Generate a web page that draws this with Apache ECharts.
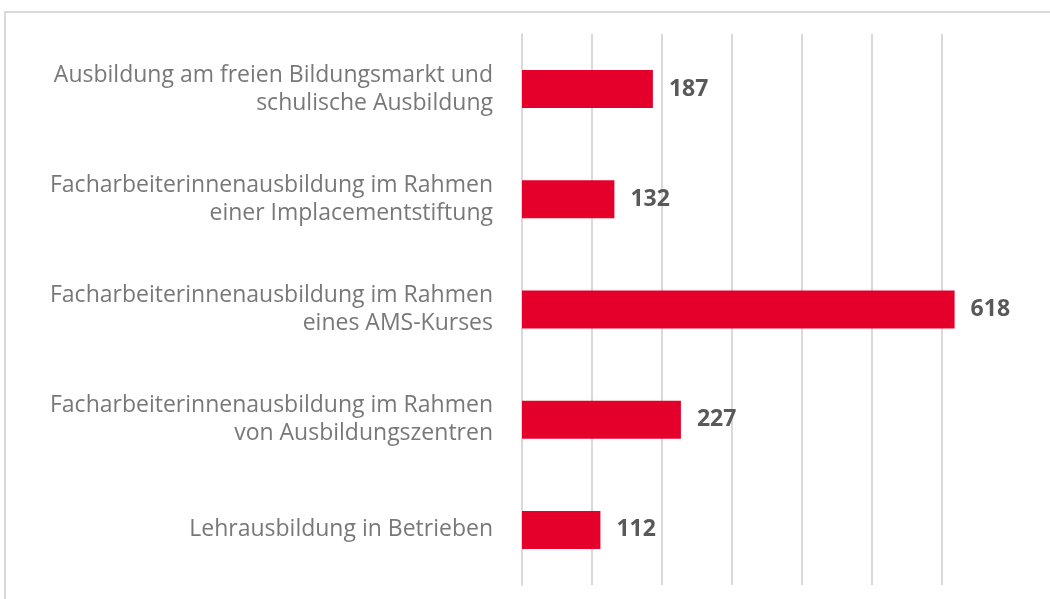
<!DOCTYPE html>
<html>
<head>
<meta charset="utf-8">
<script src="https://cdn.jsdelivr.net/npm/echarts@6/dist/echarts.min.js"></script>
<style>
  html, body { margin: 0; padding: 0; background: #fff; }
  #main { width: 1050px; height: 599px; }
</style>
</head>
<body>
<div id="main"></div>
<script>
// Kategorien von oben nach unten
const categories = [
  'Ausbildung am freien Bildungsmarkt und\nschulische Ausbildung',
  'Facharbeiterinnenausbildung im Rahmen\neiner Implacementstiftung',
  'Facharbeiterinnenausbildung im Rahmen\neines AMS-Kurses',
  'Facharbeiterinnenausbildung im Rahmen\nvon Ausbildungszentren',
  'Lehrausbildung in Betrieben'
]
const values = [187, 132, 618, 227, 112]

const myChart = echarts.init(document.getElementById('main'))

const option = {
  animation: false,
  graphic: [
    {
      type: 'rect',
      shape: { x: 5, y: 12, width: 1100, height: 700 },
      style: { fill: 'none', stroke: '#d9d9d9', lineWidth: 2 },
      silent: true
    }
  ],
  grid: { left: 522, right: 108, top: 34, bottom: 14 },
  xAxis: {
    type: 'value',
    min: 0,
    max: 600,
    interval: 100,
    axisLabel: { show: false },
    axisLine: { show: false },
    axisTick: { show: false },
    splitLine: { lineStyle: { color: '#d9d9d9', width: 2 } }
  },
  yAxis: {
    type: 'category',
    data: categories,
    inverse: true,
    axisLine: { show: true, lineStyle: { color: '#d9d9d9', width: 2 } },
    axisTick: { show: false },
    axisLabel: {
      margin: 29,
      color: '#787878',
      fontFamily: 'Open Sans',
      fontSize: 23,
      lineHeight: 28,
      padding: [8, 0, 0, 0],
      align: 'right'
    }
  },
  series: [
    {
      type: 'bar',
      data: values,
      barWidth: 38,
      clip: false,
      itemStyle: { color: '#e4002b' },
      label: {
        show: true,
        position: 'right',
        distance: 16,
        color: '#595959',
        fontFamily: 'Open Sans',
        fontWeight: 'bold',
        fontSize: 23
      }
    }
  ]
}

myChart.setOption(option)
window.onresize = function () {
  myChart.resize()
}
</script>
</body>
</html>
